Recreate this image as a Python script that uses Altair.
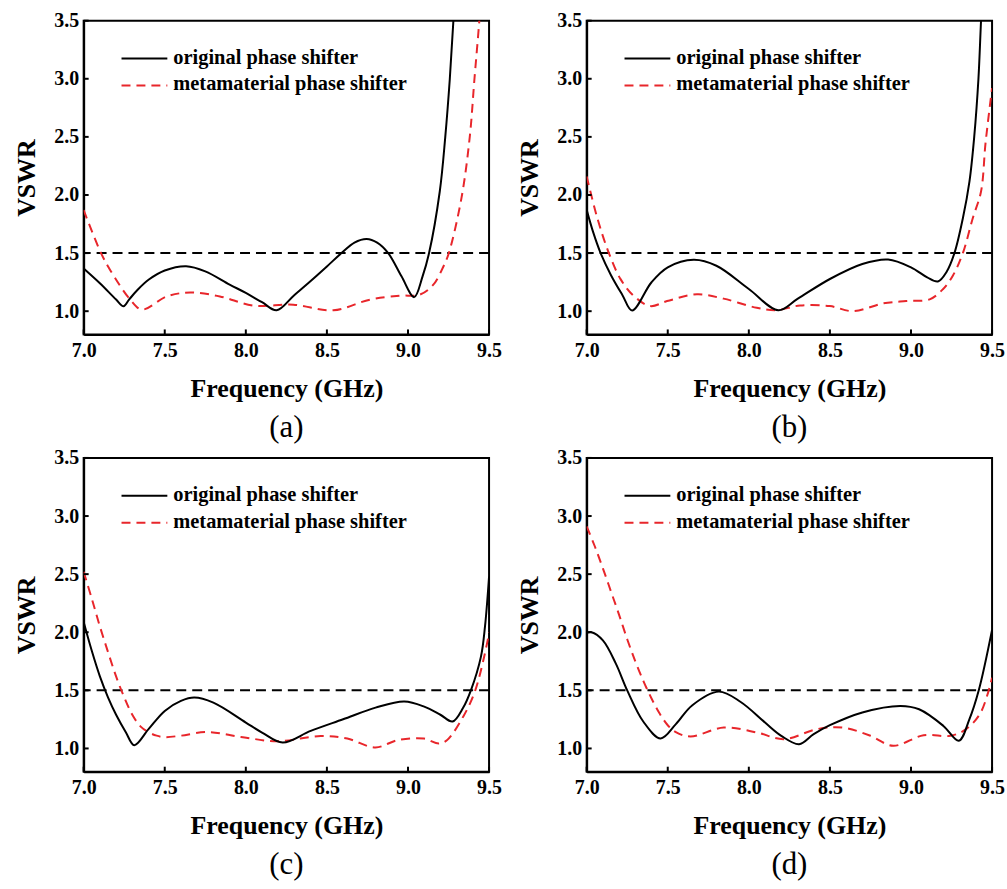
import altair as alt
import pandas as pd

# ---------------- data ----------------
x_ticks = [7.0, 7.5, 8.0, 8.5, 9.0, 9.5]
y_ticks = [1.0, 1.5, 2.0, 2.5, 3.0, 3.5]
threshold = [1.5]
legend_labels = ["original phase shifter", "metamaterial phase shifter"]
panel_labels = ["(a)", "(b)", "(c)", "(d)"]

# (a)
fa_orig = [7.00, 7.10, 7.20, 7.246, 7.28, 7.33, 7.40, 7.50, 7.632, 7.75, 7.90, 8.00, 8.10, 8.19,
           8.30, 8.40, 8.50, 8.59, 8.67, 8.745, 8.81, 8.878, 8.96, 9.038, 9.09, 9.13, 9.196, 9.23, 9.258, 9.28, 9.30]
va_orig = [1.367, 1.24, 1.10, 1.042, 1.10, 1.18, 1.27, 1.35, 1.387, 1.343, 1.229, 1.157, 1.077, 1.008,
           1.14, 1.26, 1.385, 1.50, 1.59, 1.621, 1.59, 1.50, 1.30, 1.121, 1.30, 1.50, 2.03, 2.50, 3.00, 3.50, 4.00]
fa_meta = [7.00, 7.107, 7.164, 7.287, 7.359, 7.513, 7.657, 7.84, 8.047, 8.293, 8.54,
           8.765, 8.95, 9.07, 9.155, 9.217, 9.252, 9.33, 9.381, 9.41, 9.44, 9.46]
va_meta = [1.87, 1.50, 1.353, 1.10, 1.014, 1.127, 1.161, 1.127, 1.048, 1.056, 1.008,
           1.099, 1.133, 1.141, 1.226, 1.38, 1.50, 1.975, 2.50, 3.00, 3.50, 3.90]

# (b)
fb_orig = [7.00, 7.04, 7.086, 7.15, 7.22, 7.28, 7.40, 7.50, 7.66, 7.80, 8.00, 8.182, 8.30, 8.50, 8.70, 8.859,
           9.00, 9.10, 9.166, 9.22, 9.268, 9.32, 9.361, 9.39, 9.416, 9.432, 9.45]
vb_orig = [1.872, 1.68, 1.50, 1.31, 1.14, 1.006, 1.249, 1.377, 1.442, 1.391, 1.191, 1.009, 1.106, 1.277, 1.406, 1.445,
           1.377, 1.291, 1.256, 1.34, 1.50, 1.80, 2.12, 2.50, 3.00, 3.50, 4.00]
fb_meta = [7.00, 7.066, 7.137, 7.209, 7.291, 7.393, 7.496, 7.68, 7.844, 8.049, 8.172, 8.316, 8.50, 8.643,
           8.828, 8.97, 9.115, 9.197, 9.258, 9.32, 9.381, 9.432, 9.46, 9.50]
vb_meta = [2.16, 1.80, 1.50, 1.276, 1.131, 1.044, 1.087, 1.145, 1.108, 1.029, 1.009, 1.049, 1.044, 1.00,
           1.067, 1.087, 1.102, 1.189, 1.305, 1.50, 1.80, 2.03, 2.45, 2.92]

# (c)
fc_orig = [7.00, 7.05, 7.10, 7.15, 7.20, 7.26, 7.312, 7.40, 7.50, 7.60, 7.682, 7.80, 8.00, 8.10, 8.227, 8.40,
           8.60, 8.80, 8.977, 9.10, 9.20, 9.275, 9.34, 9.388, 9.45, 9.475, 9.50]
vc_orig = [2.088, 1.84, 1.62, 1.44, 1.29, 1.14, 1.028, 1.166, 1.323, 1.409, 1.438, 1.394, 1.223, 1.137, 1.051, 1.151,
           1.251, 1.351, 1.404, 1.36, 1.29, 1.232, 1.35, 1.50, 1.79, 2.05, 2.48]
fc_meta = [7.00, 7.05, 7.10, 7.15, 7.20, 7.25, 7.30, 7.35, 7.40, 7.45, 7.50, 7.60, 7.764, 7.97, 8.195, 8.462, 8.626,
           8.80, 8.934, 9.098, 9.19, 9.24, 9.343, 9.415, 9.487, 9.50]
vc_meta = [2.52, 2.29, 2.05, 1.83, 1.62, 1.44, 1.29, 1.19, 1.14, 1.11, 1.097, 1.11, 1.141, 1.099, 1.062, 1.107, 1.085,
           1.008, 1.071, 1.085, 1.042, 1.07, 1.28, 1.50, 1.90, 2.00]

# (d)
fd_orig = [7.00, 7.03, 7.10, 7.18, 7.25, 7.35, 7.456, 7.55, 7.65, 7.815, 7.95, 8.10, 8.20, 8.31, 8.40,
           8.50, 8.70, 8.935, 9.05, 9.20, 9.295, 9.36, 9.418, 9.50]
vd_orig = [1.994, 2.00, 1.93, 1.73, 1.50, 1.23, 1.086, 1.209, 1.37, 1.489, 1.40, 1.223, 1.109, 1.037, 1.123,
           1.20, 1.31, 1.366, 1.337, 1.194, 1.066, 1.25, 1.50, 2.02]
fd_meta = [7.00, 7.05, 7.10, 7.15, 7.20, 7.25, 7.30, 7.35, 7.40, 7.45, 7.50, 7.55, 7.64, 7.846, 8.05, 8.216, 8.42,
           8.58, 8.75, 8.89, 9.078, 9.243, 9.34, 9.43, 9.50]
vd_meta = [2.91, 2.74, 2.55, 2.35, 2.15, 1.94, 1.75, 1.58, 1.43, 1.30, 1.20, 1.14, 1.103, 1.18, 1.137, 1.08, 1.166,
           1.18, 1.109, 1.023, 1.114, 1.109, 1.166, 1.309, 1.609]

series = [
    (fa_orig, va_orig, fa_meta, va_meta),
    (fb_orig, vb_orig, fb_meta, vb_meta),
    (fc_orig, vc_orig, fc_meta, vc_meta),
    (fd_orig, vd_orig, fd_meta, vd_meta),
]

# ---------------- styling ----------------
W, H = 407, 315
SERIF = "Liberation Serif"
RED = "#E8262B"
INTERP = "catmull-rom"


def panel(label, fo, vo, fm, vm):
    x_enc = alt.X(
        "f:Q",
        scale=alt.Scale(domain=[7.0, 9.5], nice=False, zero=False),
        axis=alt.Axis(values=x_ticks, format=".1f", title="Frequency (GHz)", ticks=False,
                      labelFont=SERIF, labelFontWeight="bold", labelFontSize=20, labelColor="black",
                      labelPadding=6, titleFont=SERIF, titleFontWeight="bold", titleFontSize=26,
                      titleColor="black", titlePadding=15, grid=False, domainColor="black",
                      domainWidth=2, labelFlush=False),
    )
    y_enc = alt.Y(
        "v:Q",
        scale=alt.Scale(domain=[0.8, 3.5], nice=False, zero=False),
        axis=alt.Axis(values=y_ticks, format=".1f", title="VSWR", ticks=False,
                      labelFont=SERIF, labelFontWeight="bold", labelFontSize=20, labelColor="black",
                      labelPadding=5, titleFont=SERIF, titleFontWeight="bold", titleFontSize=26,
                      titleColor="black", titlePadding=14, grid=False, domainColor="black",
                      domainWidth=2, labelFlush=False),
    )
    df_o = pd.DataFrame({"f": fo, "v": vo})
    df_m = pd.DataFrame({"f": fm, "v": vm})

    ref = alt.Chart(pd.DataFrame({"v": threshold})).mark_rule(
        color="black", strokeWidth=2, strokeDash=[10, 6]
    ).encode(y=y_enc)
    line_m = alt.Chart(df_m).mark_line(
        color=RED, strokeWidth=2, strokeDash=[9, 6], clip=True, interpolate=INTERP
    ).encode(x=x_enc, y="v:Q")
    line_o = alt.Chart(df_o).mark_line(
        color="black", strokeWidth=2, clip=True, interpolate=INTERP
    ).encode(x="f:Q", y="v:Q")

    yt = alt.Chart(pd.DataFrame({"v": y_ticks})).mark_rule(color="black", strokeWidth=2).encode(
        y="v:Q", x=alt.value(0), x2=alt.value(5))
    xt = alt.Chart(pd.DataFrame({"f": x_ticks})).mark_rule(color="black", strokeWidth=2).encode(
        x="f:Q", y=alt.value(H), y2=alt.value(H - 5))

    leg_df = pd.DataFrame({"lab": legend_labels})
    leg_line1 = alt.Chart(leg_df.iloc[[0]]).mark_rule(color="black", strokeWidth=2).encode(
        x=alt.value(38), x2=alt.value(84), y=alt.value(38))
    leg_line2 = alt.Chart(leg_df.iloc[[1]]).mark_rule(color=RED, strokeWidth=2, strokeDash=[9, 6]).encode(
        x=alt.value(38), x2=alt.value(84), y=alt.value(65))
    leg_txt1 = alt.Chart(leg_df.iloc[[0]]).mark_text(
        align="left", baseline="middle", font=SERIF, fontWeight="bold", fontSize=20.5, color="black"
    ).encode(x=alt.value(90), y=alt.value(37), text="lab:N")
    leg_txt2 = alt.Chart(leg_df.iloc[[1]]).mark_text(
        align="left", baseline="middle", font=SERIF, fontWeight="bold", fontSize=20.5, color="black"
    ).encode(x=alt.value(90), y=alt.value(64), text="lab:N")

    return alt.layer(ref, line_m, line_o, yt, xt, leg_line1, leg_line2, leg_txt1, leg_txt2).properties(
        width=W, height=H,
        title=alt.TitleParams(text=label, orient="bottom", font=SERIF, fontSize=31,
                              fontWeight="normal", color="black", offset=12),
    )


charts = [panel(lab, *s) for lab, s in zip(panel_labels, series)]
top = alt.hconcat(charts[0], charts[1], spacing=13)
bottom = alt.hconcat(charts[2], charts[3], spacing=13)
chart = alt.vconcat(top, bottom, spacing=3).configure_view(
    stroke="black", strokeWidth=2
).properties(
    padding={"left": 13, "top": 8, "right": 1, "bottom": 2}, background="white"
)

chart.save("out.html", embed_options={"renderer": "svg", "actions": False})
